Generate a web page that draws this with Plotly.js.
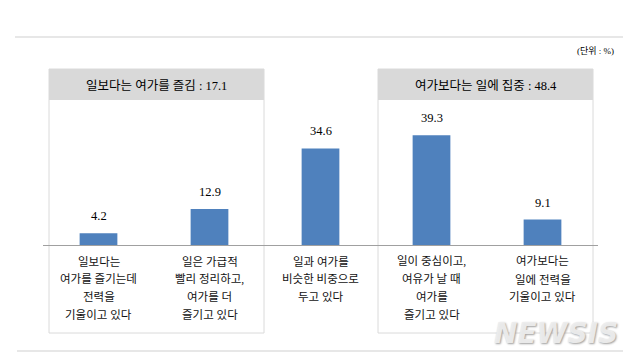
<!DOCTYPE html>
<html>
<head>
<meta charset="utf-8">
<script src="https://cdn.plot.ly/plotly-3.0.1.min.js"></script>
<style>html,body{margin:0;padding:0;background:#fff;}#chart{width:640px;height:363px;}</style>
</head>
<body>
<div id="chart"></div>
<script>
// ---- data ----
const categories = [
  "일보다는<br>여가를 즐기는데<br>전력을<br>기울이고 있다",
  "일은 가급적<br>빨리 정리하고,<br>여가를 더<br>즐기고 있다",
  "일과 여가를<br>비슷한 비중으로<br>두고 있다",
  "일이 중심이고,<br>여유가 날 때<br>여가를<br>즐기고 있다",
  "여가보다는<br>일에 전력을<br>기울이고 있다"
];
const values = [4.2, 12.9, 34.6, 39.3, 9.1];
const valueLabels = ["4.2", "12.9", "34.6", "39.3", "9.1"];
const groupTitles = ["일보다는 여가를 즐김 : 17.1", "여가보다는 일에 집중 : 48.4"];
const unitNote = "(단위 : %)";
const watermark = "NEWSIS";

// ---- layout helpers (pixel -> paper) ----
const L = 43, R = 598, T = 105, B = 245;
const px = x => (x - L) / (R - L);
const py = y => (B - y) / (B - T);

const numFont = "Liberation Serif, Noto Sans CJK KR, serif";
const krFont = "Noto Sans CJK KR, sans-serif";

const trace = {
  type: "bar",
  x: categories,
  y: values,
  width: 0.34,
  marker: {color: "#4f81bd", line: {width: 0}},
  hoverinfo: "skip"
};

const annotations = [];
// value labels
values.forEach((v, i) => {
  annotations.push({
    x: categories[i], y: v, xref: "x", yref: "y",
    text: valueLabels[i], showarrow: false,
    yanchor: "middle", yshift: 17,
    font: {family: numFont, size: 12.5, color: "#000"}
  });
});
// category labels, one annotation per line
categories.forEach((c, i) => {
  c.split("<br>").forEach((line, j) => {
    annotations.push({
      x: c, y: 0, xref: "x", yref: "y",
      text: line, showarrow: false,
      yanchor: "middle", yshift: -(16 + 18 * j),
      font: {family: numFont, size: 11.5, color: "#111"}
    });
  });
});
// group headers
const boxes = [[49, 264], [378, 593]];
groupTitles.forEach((t, i) => {
  annotations.push({
    x: px((boxes[i][0] + boxes[i][1]) / 2), y: py(85.5), xref: "paper", yref: "paper",
    text: t, showarrow: false, yanchor: "middle", xanchor: "center",
    font: {family: numFont, size: 12.5, color: "#000"}
  });
});
annotations.push({
  x: px(616), y: py(51), xref: "paper", yref: "paper",
  text: unitNote, showarrow: false, xanchor: "right", yanchor: "middle",
  font: {family: numFont, size: 9, color: "#000"}
});
annotations.push({
  x: px(556), y: py(333), xref: "paper", yref: "paper",
  text: "<b><i>" + watermark + "</i></b>", showarrow: false, xanchor: "center", yanchor: "middle",
  font: {family: "DejaVu Sans, sans-serif", size: 28, color: "rgba(238,238,238,0.95)",
         shadow: "1px 1px 2px #9a9a9a"}
});

const shapes = [];
// top and bottom rules
shapes.push({type: "line", xref: "paper", yref: "paper", x0: px(15), x1: px(623), y0: py(37), y1: py(37),
  line: {color: "#cfcfcf", width: 1}, layer: "below"});
shapes.push({type: "line", xref: "paper", yref: "paper", x0: px(17), x1: px(623), y0: py(351), y1: py(351),
  line: {color: "#cfcfcf", width: 1}, layer: "below"});
boxes.forEach(b => {
  shapes.push({type: "rect", xref: "paper", yref: "paper", x0: px(b[0]), x1: px(b[1]), y0: py(69), y1: py(100),
    fillcolor: "#d9d9d9", line: {width: 0}, layer: "below"});
  shapes.push({type: "rect", xref: "paper", yref: "paper", x0: px(b[0]), x1: px(b[1]), y0: py(69), y1: py(333),
    fillcolor: "rgba(0,0,0,0)", line: {color: "#dadada", width: 1}, layer: "below"});
});

const layout = {
  width: 640, height: 363,
  margin: {l: L, r: 640 - R, t: T, b: 363 - B, pad: 0},
  paper_bgcolor: "#fff", plot_bgcolor: "rgba(0,0,0,0)",
  showlegend: false,
  xaxis: {range: [-0.5, 4.5], showticklabels: false, ticks: "", showgrid: false, zeroline: false,
          showline: true, linecolor: "#a0a0a0", linewidth: 1, fixedrange: true},
  yaxis: {range: [0, (B - T) / 2.79], visible: false, showgrid: false, zeroline: false, fixedrange: true},
  annotations: annotations,
  shapes: shapes
};

Plotly.newPlot("chart", [trace], layout, {staticPlot: true, displayModeBar: false});
</script>
</body>
</html>
